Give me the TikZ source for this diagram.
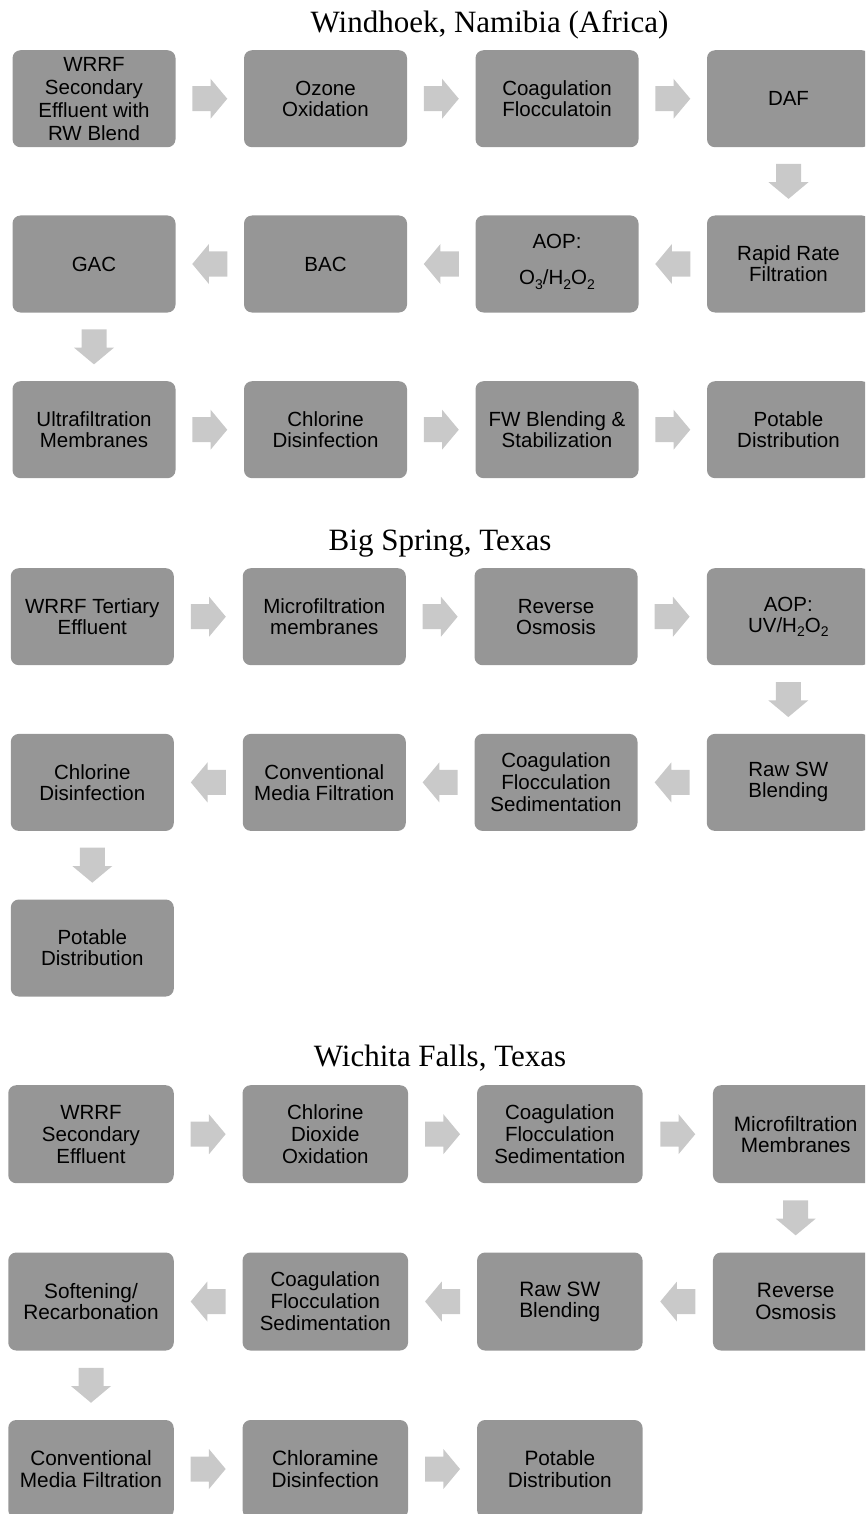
\documentclass[tikz,border=0pt]{standalone}
\usepackage{fontspec}
\setmainfont{Liberation Serif}
\newfontfamily\boxfont{Liberation Sans}
\usetikzlibrary{calc}
\definecolor{boxgray}{RGB}{150,150,150}
\definecolor{arrowgray}{RGB}{201,201,201}
% chemical subscript, lowered and reduced like a slide subscript
\newcommand\chemsub[1]{\raisebox{-0.22em}{\fontsize{14}{14}\selectfont #1}}

\begin{document}
\begin{tikzpicture}[x=1pt,y=-1pt,
  stage/.style={rounded corners=8pt, fill=boxgray, minimum width=163pt,
    minimum height=97pt, inner sep=0pt, align=center,
    font=\boxfont\fontsize{20.5}{21}\selectfont},
  stagewide/.style={stage, minimum width=165.5pt, minimum height=98pt,
    font=\boxfont\fontsize{20.8}{21.2}\selectfont},
  threeline/.style={font=\boxfont\fontsize{20.5}{22}\selectfont},
  fourline/.style={font=\boxfont\fontsize{20.5}{23}\selectfont},
  city/.style={anchor=base, inner sep=0pt, font=\fontsize{31}{31}\selectfont},
  flowarrow/.pic={\fill[arrowgray] (-17.5,-12.5) -- (0.8,-12.5) -- (0.8,-20)
    -- (17.5,0) -- (0.8,20) -- (0.8,12.5) -- (-17.5,12.5) -- cycle;}
]
\useasboundingbox (0,0) rectangle (865,1514);
\clip (0,0) rectangle (865,1514);

% ---------------- Windhoek ----------------
\node[city] (tw) at (489.5,33) {Windhoek, Namibia (Africa)};

\node[stage,fourline] (w1) at (94,98.75) {WRRF\\Secondary\\Effluent with\\RW Blend};
\node[stage] (w2) at (325.5,98.75) {Ozone\\Oxidation};
\node[stage] (w3) at (557,98.75) {Coagulation\\Flocculatoin};
\node[stage] (w4) at (788.5,98.75) {DAF};

\node[stage] (w5) at (788.5,264) {Rapid Rate\\Filtration};
\node[stage] (w6) at (557,264) {AOP:\\[15.3pt]O\chemsub{3}/H\chemsub{2}O\chemsub{2}\rule[-9pt]{0pt}{0pt}};
\node[stage] (w7) at (325.5,264) {BAC};
\node[stage] (w8) at (94,264) {GAC};

\node[stage] (w9) at (94,429.7) {Ultrafiltration\\Membranes};
\node[stage] (w10) at (325.5,429.7) {Chlorine\\Disinfection};
\node[stage] (w11) at (557,429.7) {FW Blending \&\\Stabilization};
\node[stage] (w12) at (788.5,429.7) {Potable\\Distribution};

\path ($(w1.east)!0.5!(w2.west)$) pic{flowarrow};
\path ($(w2.east)!0.5!(w3.west)$) pic{flowarrow};
\path ($(w3.east)!0.5!(w4.west)$) pic{flowarrow};
\path ($(w4.south)!0.5!(w5.north)$) pic[rotate=-90]{flowarrow};
\path ($(w5.west)!0.5!(w6.east)$) pic[rotate=180]{flowarrow};
\path ($(w6.west)!0.5!(w7.east)$) pic[rotate=180]{flowarrow};
\path ($(w7.west)!0.5!(w8.east)$) pic[rotate=180]{flowarrow};
\path ($(w8.south)!0.5!(w9.north)$) pic[rotate=-90]{flowarrow};
\path ($(w9.east)!0.5!(w10.west)$) pic{flowarrow};
\path ($(w10.east)!0.5!(w11.west)$) pic{flowarrow};
\path ($(w11.east)!0.5!(w12.west)$) pic{flowarrow};

% ---------------- Big Spring ----------------
\node[city] (tb) at (440,550.5) {Big Spring, Texas};

\node[stage] (b1) at (92.3,616.7) {WRRF Tertiary\\Effluent};
\node[stage] (b2) at (324.3,616.7) {Microfiltration\\membranes};
\node[stage] (b3) at (556,616.7) {Reverse\\Osmosis};
\node[stage] (b4) at (788.3,616.7) {AOP:\\UV/H\chemsub{2}O\chemsub{2}};

\node[stage] (b5) at (788.3,782.4) {Raw SW\\Blending};
\node[stage,threeline] (b6) at (556,782.4) {Coagulation\\Flocculation\\Sedimentation};
\node[stage] (b7) at (324.3,782.4) {Conventional\\Media Filtration};
\node[stage] (b8) at (92.3,782.4) {Chlorine\\Disinfection};

\node[stage] (b9) at (92.3,948) {Potable\\Distribution};

\path ($(b1.east)!0.5!(b2.west)$) pic{flowarrow};
\path ($(b2.east)!0.5!(b3.west)$) pic{flowarrow};
\path ($(b3.east)!0.5!(b4.west)$) pic{flowarrow};
\path ($(b4.south)!0.5!(b5.north)$) pic[rotate=-90]{flowarrow};
\path ($(b5.west)!0.5!(b6.east)$) pic[rotate=180]{flowarrow};
\path ($(b6.west)!0.5!(b7.east)$) pic[rotate=180]{flowarrow};
\path ($(b7.west)!0.5!(b8.east)$) pic[rotate=180]{flowarrow};
\path ($(b8.south)!0.5!(b9.north)$) pic[rotate=-90]{flowarrow};

% ---------------- Wichita Falls ----------------
\node[city] (tf) at (440,1066) {Wichita Falls, Texas};

\node[stagewide,threeline] (f1) at (91,1134.2) {WRRF\\Secondary\\Effluent};
\node[stagewide,threeline] (f2) at (325.3,1134.2) {Chlorine\\Dioxide\\Oxidation};
\node[stagewide,threeline] (f3) at (559.8,1134.2) {Coagulation\\Flocculation\\Sedimentation};
\node[stagewide] (f4) at (795.7,1134.2) {Microfiltration\\Membranes};

\node[stagewide] (f5) at (795.7,1301.5) {Reverse\\Osmosis};
\node[stagewide] (f6) at (559.8,1301.5) {Raw SW\\Blending};
\node[stagewide,threeline] (f7) at (325.3,1301.5) {Coagulation\\Flocculation\\Sedimentation};
\node[stagewide] (f8) at (91,1301.5) {Softening/\\Recarbonation};

\node[stagewide] (f9) at (91,1469) {Conventional\\Media Filtration};
\node[stagewide] (f10) at (325.3,1469) {Chloramine\\Disinfection};
\node[stagewide] (f11) at (559.8,1469) {Potable\\Distribution};

\path ($(f1.east)!0.5!(f2.west)$) pic{flowarrow};
\path ($(f2.east)!0.5!(f3.west)$) pic{flowarrow};
\path ($(f3.east)!0.5!(f4.west)$) pic{flowarrow};
\path ($(f4.south)!0.5!(f5.north)$) pic[rotate=-90]{flowarrow};
\path ($(f5.west)!0.5!(f6.east)$) pic[rotate=180]{flowarrow};
\path ($(f6.west)!0.5!(f7.east)$) pic[rotate=180]{flowarrow};
\path ($(f7.west)!0.5!(f8.east)$) pic[rotate=180]{flowarrow};
\path ($(f8.south)!0.5!(f9.north)$) pic[rotate=-90]{flowarrow};
\path ($(f9.east)!0.5!(f10.west)$) pic{flowarrow};
\path ($(f10.east)!0.5!(f11.west)$) pic{flowarrow};
\end{tikzpicture}
\end{document}
